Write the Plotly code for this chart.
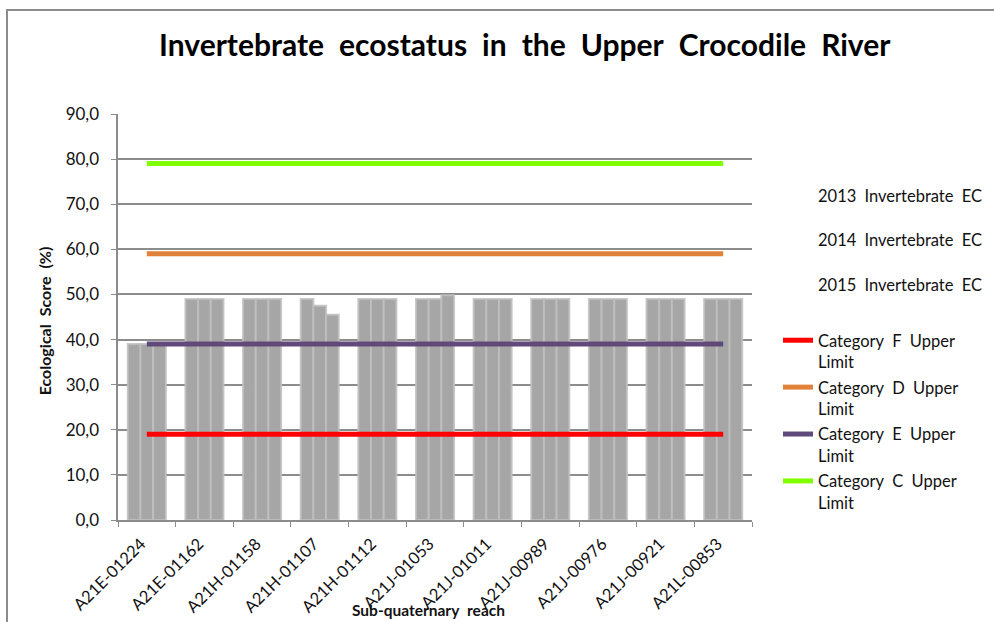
import plotly.graph_objects as go

categories = ["A21E-01224", "A21E-01162", "A21H-01158", "A21H-01107", "A21H-01112",
              "A21J-01053", "A21J-01011", "A21J-00989", "A21J-00976", "A21J-00921", "A21L-00853"]
ec_2013 = [39, 49, 49, 49, 49, 49, 49, 49, 49, 49, 49]
ec_2014 = [39, 49, 49, 47.5, 49, 49, 49, 49, 49, 49, 49]
ec_2015 = [39, 49, 49, 45.5, 49, 49.8, 49, 49, 49, 49, 49]
cat_f_upper = [19] * 11
cat_d_upper = [59] * 11
cat_e_upper = [39] * 11
cat_c_upper = [79] * 11
y_ticks = [0, 10, 20, 30, 40, 50, 60, 70, 80, 90]
y_tick_labels = ["0,0", "10,0", "20,0", "30,0", "40,0", "50,0", "60,0", "70,0", "80,0", "90,0"]

SP = "\u2002"  # en space (the original uses a wide space glyph between words)
FONT = "Lato"
H = 406.0  # plot height px, for paper-coordinate conversions
W = 634.0

fig = go.Figure()

bar_series = [("2013" + SP + "Invertebrate" + SP + "EC" + SP, ec_2013),
              ("2014" + SP + "Invertebrate" + SP + "EC" + SP, ec_2014),
              ("2015" + SP + "Invertebrate" + SP + "EC" + SP, ec_2015)]
for name, vals in bar_series:
    fig.add_trace(go.Bar(x=categories, y=vals, name=name, showlegend=False,
                         marker=dict(color="#A6A6A6", line=dict(color="rgba(192,192,192,0.85)", width=2))))
# legend-only entries for the bar series (no visible swatch, as in the reference)
for name, vals in bar_series:
    fig.add_trace(go.Scatter(x=[categories[0]], y=[None], name=name, mode="lines",
                             line=dict(color="rgba(0,0,0,0)"), legend="legend", legendgroup=name))

def cat_name(letter):
    return "Category" + SP + letter + SP + "Upper" + SP + "<br>Limit" + SP

line_series = [(cat_name("F"), cat_f_upper, "#FF0000"),
               (cat_name("D"), cat_d_upper, "#E0823A"),
               (cat_name("E"), cat_e_upper, "#604A7B"),
               (cat_name("C"), cat_c_upper, "#80FF00")]
for name, vals, col in line_series:
    fig.add_trace(go.Scatter(x=categories, y=vals, name=name, mode="lines",
                             line=dict(color=col, width=5), legend="legend2", legendgroup=name))

fig.update_layout(
    width=994, height=622,
    margin=dict(l=118, r=242, t=114, b=102, autoexpand=False),
    paper_bgcolor="white", plot_bgcolor="white",
    font=dict(family=FONT, color="#111111", size=16),
    title=dict(text="<b>Invertebrate" + SP + "ecostatus" + SP + "in" + SP + "the" + SP + "Upper" + SP
                    + "Crocodile" + SP + "River" + SP + SP + "</b>",
               x=0.543, xanchor="center", y=1 - 45 / 622, yanchor="middle", yref="container",
               font=dict(family=FONT, size=30, color="#000000")),
    barmode="group", bargap=0.34, bargroupgap=0,
    legend=dict(x=(778 - 118) / W, xanchor="left", y=(520 - 178) / H, yanchor="top",
                traceorder="grouped", tracegroupgap=20, font=dict(size=16.5, family=FONT),
                bgcolor="rgba(0,0,0,0)"),
    legend2=dict(x=(778 - 118) / W, xanchor="left", y=(520 - 323) / H, yanchor="top",
                 traceorder="grouped", tracegroupgap=1, valign="top", font=dict(size=16.5, family=FONT),
                 bgcolor="rgba(0,0,0,0)"),
    xaxis=dict(type="category", showline=True, linecolor="#8C8C8C", linewidth=2,
               ticks="outside", tickson="boundaries", ticklen=5, tickcolor="#8C8C8C",
               tickangle=-45, tickfont=dict(size=16.5, family=FONT, color="#111111"),
               tickvals=categories, ticktext=[c + SP for c in categories],
               showgrid=False),
    yaxis=dict(range=[0, 90], tickvals=y_ticks, ticktext=[t + SP for t in y_tick_labels], showline=True,
               linecolor="#8C8C8C", linewidth=2, ticks="outside", ticklen=5, tickcolor="#8C8C8C",
               showgrid=True, gridcolor="#8C8C8C", gridwidth=1.5, zeroline=False,
               tickfont=dict(size=17, family=FONT, color="#111111"),
               title=dict(text="<b>Ecological" + SP + "Score" + SP + "(%)" + SP + "</b>",
                          font=dict(size=16, family=FONT), standoff=10)),
    annotations=[dict(text="<b>Sub-quaternary" + SP + "reach" + SP + "</b>", xref="paper", yref="paper",
                      x=(432 - 118) / W, y=(520 - 610) / H, xanchor="center", yanchor="middle",
                      showarrow=False, font=dict(size=15.5, family=FONT, color="#111111"))],
    shapes=[dict(type="rect", xref="paper", yref="paper", x0=(7 - 118) / W, x1=1.6, y0=-0.6,
                 y1=(520 - 10) / H, line=dict(color="#8C8C8C", width=2), layer="below")],
)

fig.write_html("out.html", config={"displayModeBar": False},
               post_script="document.body.style.margin='0px';")
